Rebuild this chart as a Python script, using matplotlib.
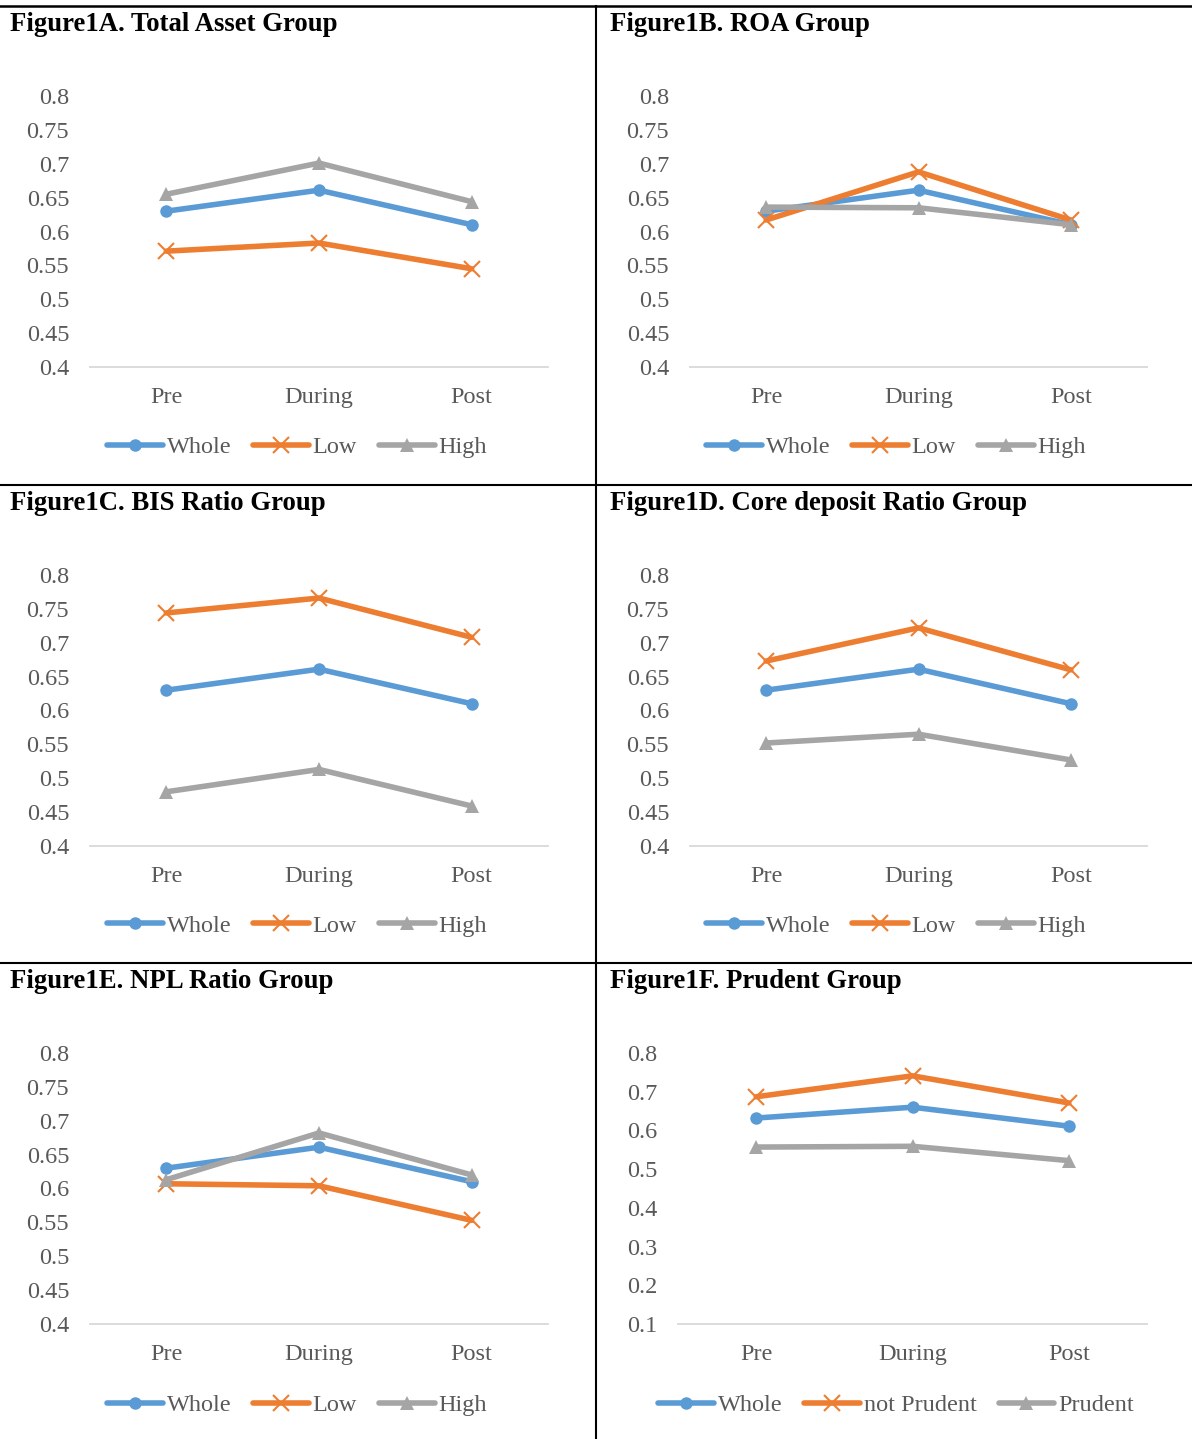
import matplotlib
matplotlib.use("Agg")
import matplotlib.pyplot as plt
from matplotlib.lines import Line2D
from matplotlib.ticker import FuncFormatter, MultipleLocator

# ---- data -------------------------------------------------------------
periods = ["Pre", "During", "Post"]

whole = [0.630, 0.661, 0.610]

asset_low = [0.571, 0.583, 0.545]
asset_high = [0.655, 0.701, 0.644]

roa_low = [0.617, 0.688, 0.617]
roa_high = [0.636, 0.635, 0.610]

bis_low = [0.744, 0.766, 0.708]
bis_high = [0.480, 0.513, 0.459]

core_low = [0.673, 0.722, 0.660]
core_high = [0.552, 0.565, 0.527]

npl_low = [0.607, 0.604, 0.553]
npl_high = [0.613, 0.682, 0.620]

prudent_whole = [0.632, 0.660, 0.611]
not_prudent = [0.687, 0.741, 0.671]
prudent = [0.557, 0.559, 0.522]

titles = [
    "Figure1A. Total Asset Group",
    "Figure1B. ROA Group",
    "Figure1C. BIS Ratio Group",
    "Figure1D. Core deposit Ratio Group",
    "Figure1E. NPL Ratio Group",
    "Figure1F. Prudent Group",
]
group_labels = ["Whole", "Low", "High"]
prudent_labels = ["Whole", "not Prudent", "Prudent"]

# ---- style ------------------------------------------------------------
W, H = 1192, 1439
FONT = "Liberation Serif"
TXT = "#595959"
BLUE, ORANGE, GREY = "#5B9BD5", "#ED7D31", "#A5A5A5"
LABEL_SIZE = 17.5
plt.rcParams["font.family"] = FONT

fig = plt.figure(figsize=(W / 100, H / 100), dpi=100)


def fx(x):
    return x / W


def fy(y):
    return 1 - y / H


def panel(left, right, row_top, title_x, title, series, labels, ymin, ymax,
          step, leg_cx, leg_cy):
    top = row_top + 90
    bottom = top + 271
    ax = fig.add_axes([fx(left), fy(bottom), fx(right) - fx(left),
                       fy(top) - fy(bottom)])
    styles = [
        dict(color=BLUE, marker="o", markersize=9, markeredgewidth=0),
        dict(color=ORANGE, marker="x", markersize=11, markeredgewidth=1.5),
        dict(color=GREY, marker="^", markersize=10.5, markeredgewidth=0),
    ]
    x = list(range(len(periods)))
    for vals, lab, st in zip(series, labels, styles):
        ax.plot(x, vals, lw=4.0, label=lab, solid_capstyle="round",
                clip_on=False, **st)
    ax.set_xlim(-0.5, len(periods) - 0.5)
    ax.set_ylim(ymin, ymax)
    ax.yaxis.set_major_locator(MultipleLocator(step))
    ax.yaxis.set_major_formatter(FuncFormatter(lambda v, p: f"{round(v, 3):g}"))
    ax.set_xticks(x)
    ax.set_xticklabels(periods)
    for s in ("top", "right", "left"):
        ax.spines[s].set_visible(False)
    ax.spines["bottom"].set_color("#D9D9D9")
    ax.spines["bottom"].set_linewidth(1.3)
    ax.tick_params(axis="both", length=0, labelsize=LABEL_SIZE,
                   labelcolor=TXT)
    ax.tick_params(axis="y", pad=15)
    ax.tick_params(axis="x", pad=14.5)
    ax.set_facecolor("none")

    fig.text(fx(title_x), fy(row_top + 6), title, fontsize=19.3,
             fontweight="bold", color="black", ha="left", va="top")

    handles, labs = ax.get_legend_handles_labels()
    leg = fig.legend(handles, labs, loc="center",
                     bbox_to_anchor=(fx(leg_cx), fy(leg_cy)), ncol=3,
                     frameon=False, fontsize=LABEL_SIZE, handlelength=2.3,
                     handletextpad=0.15, columnspacing=0.9, markerscale=1.0)
    for t in leg.get_texts():
        t.set_color(TXT)
    return ax


rows = [6, 485, 963]
lc = (90, 548)
rc = (690, 1147)

panel(*lc, rows[0], 10, titles[0], [whole, asset_low, asset_high],
      group_labels, 0.4, 0.8, 0.05, 297, 447)
panel(*rc, rows[0], 610, titles[1], [whole, roa_low, roa_high],
      group_labels, 0.4, 0.8, 0.05, 896, 447)
panel(*lc, rows[1], 10, titles[2], [whole, bis_low, bis_high],
      group_labels, 0.4, 0.8, 0.05, 297, 926)
panel(*rc, rows[1], 610, titles[3], [whole, core_low, core_high],
      group_labels, 0.4, 0.8, 0.05, 896, 926)
panel(*lc, rows[2], 10, titles[4], [whole, npl_low, npl_high],
      group_labels, 0.4, 0.8, 0.05, 297, 1405)
panel(678, 1147, rows[2], 610, titles[5],
      [prudent_whole, not_prudent, prudent], prudent_labels,
      0.1, 0.8, 0.1, 896, 1405)

# table-style frame lines around the panels
fig.add_artist(Line2D([0, 1], [fy(6), fy(6)], color="black", lw=1.8))
fig.add_artist(Line2D([0, 1], [fy(485), fy(485)], color="black", lw=1.5))
fig.add_artist(Line2D([0, 1], [fy(963), fy(963)], color="black", lw=1.5))
fig.add_artist(Line2D([fx(596), fx(596)], [fy(6), 0], color="black", lw=1.5))

fig.savefig("out.png", dpi=100, facecolor="white")
